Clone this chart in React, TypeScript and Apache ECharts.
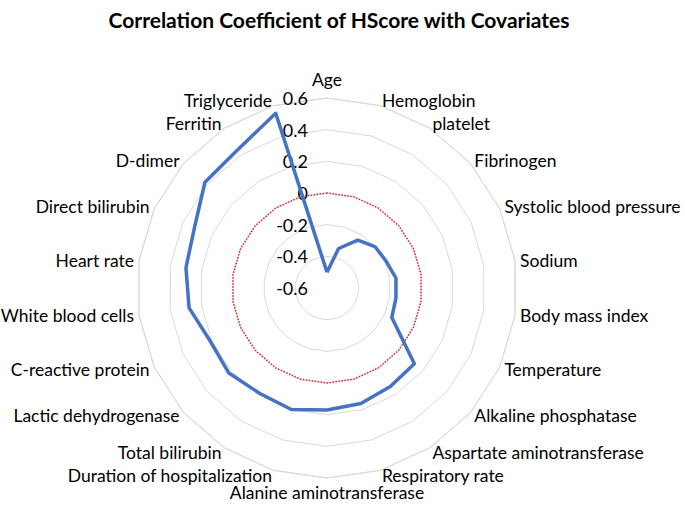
import React, { useEffect, useRef } from "react";
import * as echarts from "echarts";

const titleText = "Correlation Coefficient of HScore with Covariates";

const categories = [
  "Age",
  "Hemoglobin",
  "platelet",
  "Fibrinogen",
  "Systolic blood pressure",
  "Sodium",
  "Body mass index",
  "Temperature",
  "Alkaline phosphatase",
  "Aspartate aminotransferase",
  "Respiratory rate",
  "Alanine aminotransferase",
  "Duration of hospitalization",
  "Total bilirubin",
  "Lactic dehydrogenase",
  "C-reactive protein",
  "White blood cells",
  "Heart rate",
  "Direct bilirubin",
  "D-dimer",
  "Ferritin",
  "Triglyceride",
];

const correlation = [
  -0.5, -0.34, -0.24, -0.2, -0.19, -0.16, -0.16, -0.15, 0.13, 0.14, 0.16,
  0.17, 0.2, 0.19, 0.22, 0.21, 0.28, 0.3, 0.32, 0.42, 0.44, 0.55,
];

const zeroLine = [
  0, 0, 0, 0, 0, 0, 0, 0, 0, 0, 0, 0, 0, 0, 0, 0, 0, 0, 0, 0, 0, 0,
];

const axisMin = -0.6;
const axisMax = 0.6;

// ECharts lays radar indicators counter-clockwise; keep the first, reverse the rest
const toClockwise = <T,>(arr: T[]): T[] => [arr[0], ...arr.slice(1).reverse()];

const tickFormat = (v: number) => {
  const r = Math.round(v * 10) / 10;
  return r === 0 ? "0" : String(r);
};

export default function App() {
  const ref = useRef<HTMLDivElement>(null);

  useEffect(() => {
    document.body.style.margin = "0";
    if (!ref.current) return;
    const chart = echarts.init(ref.current, undefined, { renderer: "svg" });
    const font = "Lato";
    const indicators = toClockwise(categories).map((name, i) => ({
      name,
      min: axisMin,
      max: axisMax,
      ...(i === 0 ? { axisLabel: { show: true }, nameGap: 10 } : {}),
    }));
    chart.setOption({
      animation: false,
      backgroundColor: "#ffffff",
      title: {
        text: titleText,
        left: 334,
        textAlign: "center",
        top: 4,
        textStyle: {
          fontFamily: font,
          fontWeight: "bold",
          fontSize: 21,
          color: "#000000",
        },
      },
      radar: {
        center: [327, 288],
        radius: 190,
        startAngle: 90,
        shape: "polygon",
        splitNumber: 6,
        nameGap: 5,
        indicator: indicators,
        axisName: {
          color: "#000000",
          fontFamily: font,
          fontSize: 17.5,
        },
        axisLine: { show: false },
        axisTick: { show: false },
        axisLabel: {
          show: false,
          color: "#000000",
          fontFamily: font,
          fontSize: 18,
          margin: 19,
          formatter: tickFormat,
        },
        splitLine: { lineStyle: { color: "#d9d9d9", width: 1 } },
        splitArea: { show: false },
      },
      series: [
        {
          type: "radar",
          symbol: "none",
          silent: true,
          data: [
            {
              value: toClockwise(zeroLine),
              name: "zero",
              lineStyle: { color: "#e8212b", width: 1.5, type: "dotted" },
            },
          ],
        },
        {
          type: "radar",
          symbol: "none",
          data: [
            {
              value: toClockwise(correlation),
              name: "Correlation",
              lineStyle: { color: "#4472c4", width: 3.5 },
            },
          ],
        },
      ],
    });
    return () => chart.dispose();
  }, []);

  return <div ref={ref} style={{ width: 685, height: 509 }} />;
}
